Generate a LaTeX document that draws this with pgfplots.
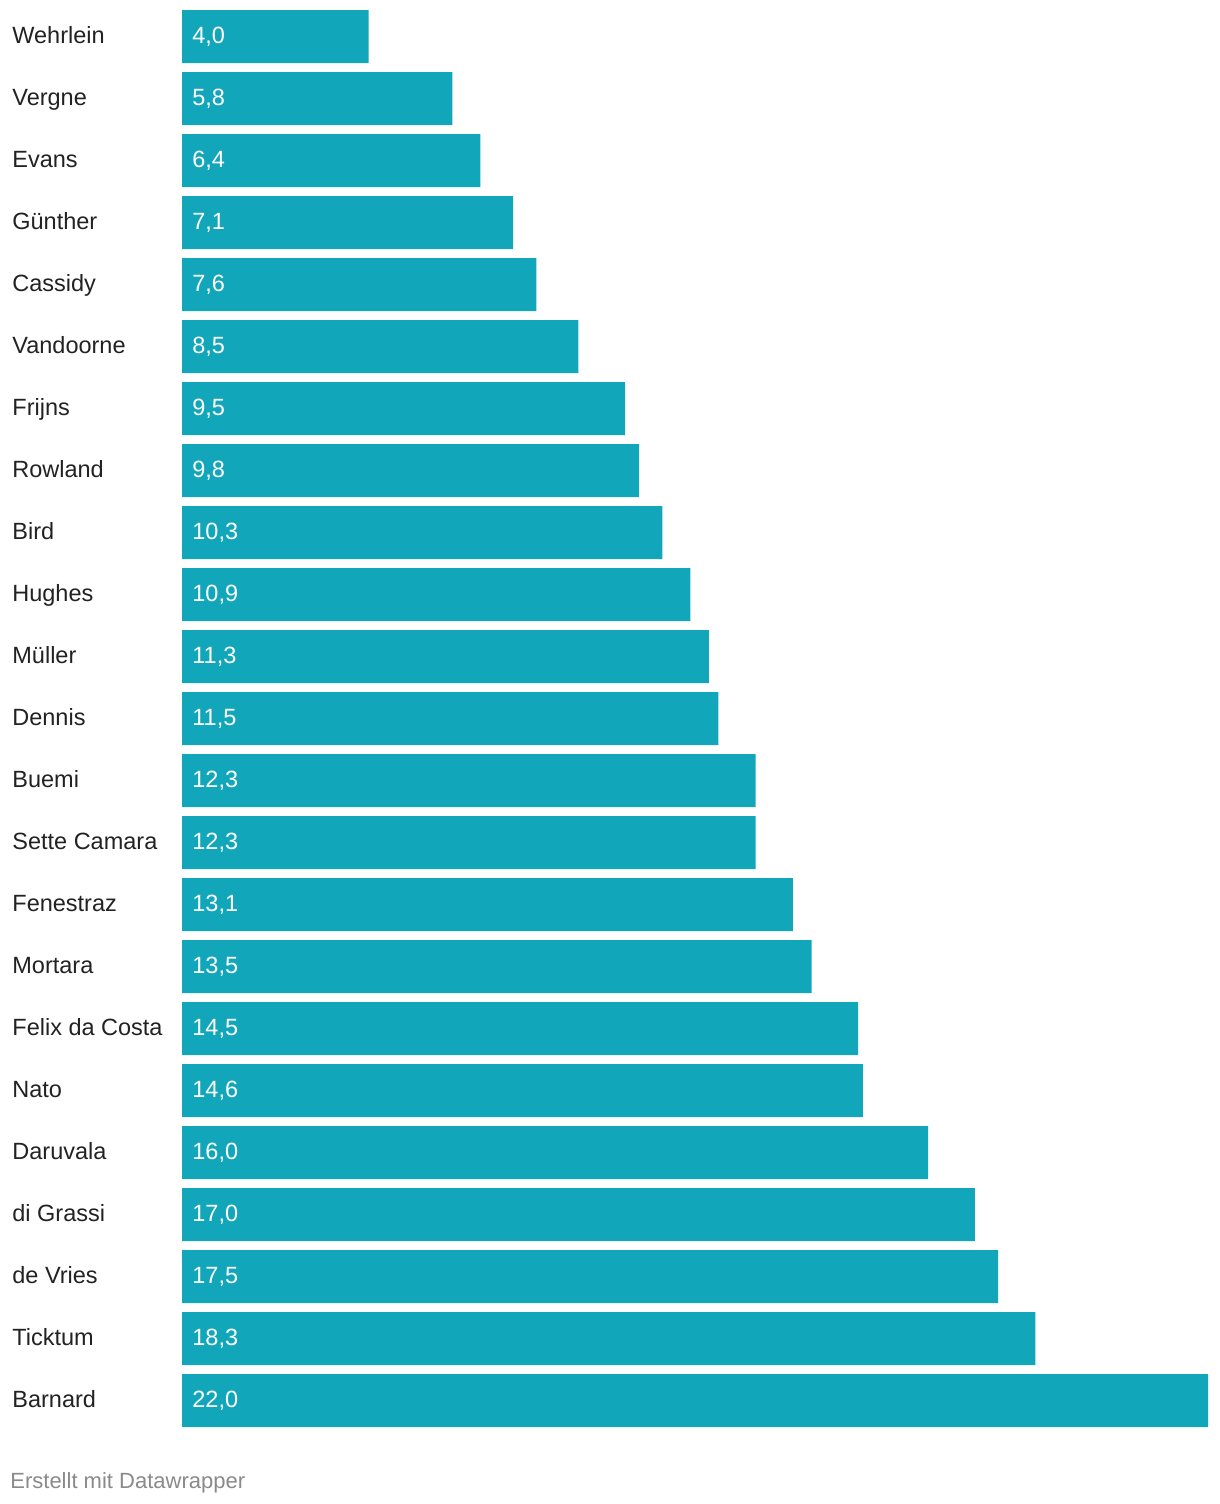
\documentclass[border=0pt]{standalone}
\usepackage{fontspec}
\setmainfont{Liberation Sans}
\usepackage{pgfplots}
\usepackage{pgfplotstable}
\pgfplotsset{compat=1.18}
\definecolor{bar}{HTML}{12A6BA}
\definecolor{lab}{HTML}{222222}
\definecolor{foot}{HTML}{8A8A8A}

% idx: row from the top, val: value, zero: start of the bar
\pgfplotstableread{
idx val zero
0 4.0 0
1 5.8 0
2 6.4 0
3 7.1 0
4 7.6 0
5 8.5 0
6 9.5 0
7 9.8 0
8 10.3 0
9 10.9 0
10 11.3 0
11 11.5 0
12 12.3 0
13 12.3 0
14 13.1 0
15 13.5 0
16 14.5 0
17 14.6 0
18 16.0 0
19 17.0 0
20 17.5 0
21 18.3 0
22 22.0 0
}\drivers

\begin{document}
\begin{tikzpicture}
\path[use as bounding box] (0,0) rectangle (610pt,752pt);
\begin{axis}[
    at={(91pt,36.25pt)}, anchor=south west,
    scale only axis,
    width=513pt, height=713pt,
    xmin=0, xmax=22,
    ymin=-0.5, ymax=22.5,
    y dir=reverse,
    axis line style={draw=none},
    xtick=\empty,
    ytick={0,...,22},
    yticklabels={Wehrlein,Vergne,Evans,Günther,Cassidy,Vandoorne,Frijns,Rowland,Bird,Hughes,Müller,Dennis,Buemi,Sette Camara,Fenestraz,Mortara,Felix da Costa,Nato,Daruvala,di Grassi,de Vries,Ticktum,Barnard},
    major tick length=0pt,
    yticklabel style={anchor=west, xshift=-85pt, yshift=0.5pt, inner sep=0pt,
        font=\fontsize{11.75}{14}\selectfont, text=lab,
        text height=8.4pt, text depth=0pt},
    /pgf/number format/use comma,
    /pgf/number format/fixed,
    /pgf/number format/fixed zerofill,
    /pgf/number format/precision=1,
    /pgf/number format/assume math mode=true,
]
\addplot[xbar, bar width=26.5pt, bar shift=0pt, fill=bar, draw=none]
    table[x=val, y=idx] {\drivers};
\addplot[xbar, bar width=26.5pt, bar shift=0pt, fill=none, draw=none,
    point meta=explicit, nodes near coords,
    nodes near coords style={anchor=west, xshift=5pt, yshift=0.5pt, inner sep=0pt,
        font=\fontsize{11.75}{14}\selectfont, text=white,
        text height=8.4pt, text depth=0pt}]
    table[x=zero, y=idx, meta=val] {\drivers};
\end{axis}
\node[anchor=base west, inner sep=0pt, text=foot, font=\fontsize{11}{13}\selectfont]
    at (5pt,8pt) {Erstellt mit Datawrapper};
\end{tikzpicture}
\end{document}
